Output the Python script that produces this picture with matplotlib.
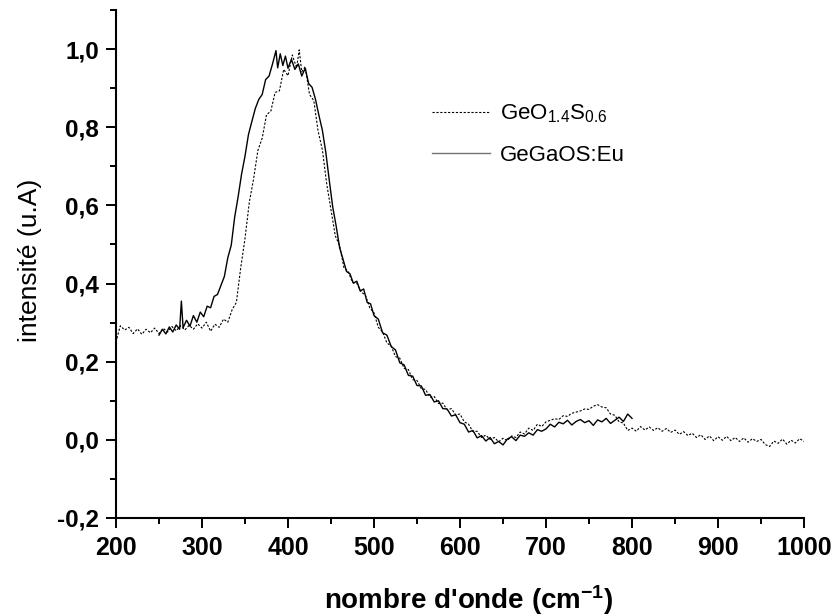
import numpy as np
import matplotlib
matplotlib.use("Agg")
import matplotlib.pyplot as plt
from matplotlib.ticker import MultipleLocator, FuncFormatter

plt.rcParams["font.family"] = ["Liberation Sans", "DejaVu Sans"]
plt.rcParams["mathtext.fontset"] = "custom"
plt.rcParams["mathtext.rm"] = "Liberation Sans"
plt.rcParams["mathtext.bf"] = "Liberation Sans:bold"
plt.rcParams["mathtext.it"] = "Liberation Sans:italic"
plt.rcParams["mathtext.default"] = "rm"

# GeO1.4S0.6 (dashed)
geos_x = [200, 205, 210, 215, 220, 225, 230, 235, 240, 245, 250, 255, 260, 265, 270, 275,
          280, 285, 290, 295, 300, 305, 310, 315, 320, 325, 330, 335, 340, 345, 350, 355,
          360, 365, 370, 375, 380, 385, 390, 395, 400, 405, 410, 413, 416, 420, 425, 430,
          435, 440, 445, 450, 455, 460, 465, 470, 475, 480, 485, 490, 495, 500, 505, 510,
          515, 520, 525, 530, 535, 540, 545, 550, 555, 560, 565, 570, 575, 580, 585, 590,
          595, 600, 605, 610, 615, 620, 625, 630, 635, 640, 645, 650, 655, 660, 665, 670,
          675, 680, 685, 690, 695, 700, 705, 710, 715, 720, 725, 730, 735, 740, 745, 750,
          755, 760, 765, 770, 775, 780, 785, 790, 795, 800, 805, 810, 815, 820, 825, 830,
          835, 840, 845, 850, 855, 860, 865, 870, 875, 880, 885, 890, 895, 900, 905, 910,
          915, 920, 925, 930, 935, 940, 945, 950, 955, 960, 965, 970, 975, 980, 985, 990,
          995, 1000]
geos_y = [0.250, 0.292, 0.281, 0.288, 0.272, 0.284, 0.270, 0.283, 0.274, 0.286, 0.272, 0.285,
          0.276, 0.290, 0.279, 0.292, 0.281, 0.293, 0.283, 0.297, 0.286, 0.301, 0.278, 0.296,
          0.288, 0.309, 0.301, 0.333, 0.352, 0.440, 0.515, 0.608, 0.668, 0.741, 0.772, 0.832,
          0.841, 0.889, 0.893, 0.948, 0.932, 0.985, 0.952, 0.998, 0.942, 0.955, 0.884, 0.868,
          0.790, 0.742, 0.655, 0.589, 0.522, 0.497, 0.441, 0.431, 0.403, 0.401, 0.378, 0.371,
          0.338, 0.325, 0.288, 0.276, 0.248, 0.240, 0.213, 0.209, 0.183, 0.180, 0.154, 0.152,
          0.131, 0.129, 0.109, 0.111, 0.093, 0.094, 0.077, 0.080, 0.064, 0.066, 0.046, 0.040,
          0.021, 0.022, 0.006, 0.012, 0.001, 0.006, -0.005, 0.004, -0.002, 0.010, 0.006, 0.020,
          0.015, 0.030, 0.024, 0.040, 0.034, 0.046, 0.050, 0.054, 0.052, 0.062, 0.060, 0.068,
          0.071, 0.074, 0.079, 0.078, 0.086, 0.090, 0.084, 0.082, 0.066, 0.063, 0.046, 0.043,
          0.024, 0.030, 0.022, 0.034, 0.025, 0.033, 0.024, 0.031, 0.022, 0.029, 0.019, 0.025,
          0.014, 0.021, 0.011, 0.017, 0.006, 0.013, 0.001, 0.010, -0.002, 0.008, -0.001, 0.009,
          -0.002, 0.006, -0.004, 0.005, -0.006, 0.003, -0.004, 0.001, -0.012, -0.017, -0.003,
          -0.009, 0.002, -0.011, -0.001, -0.008, 0.003, -0.004]

# GeGaOS:Eu (solid)
eu_x = [250, 254, 258, 262, 266, 270, 274, 276, 278, 282, 286, 290, 294, 298, 302, 306,
        310, 314, 318, 322, 326, 330, 334, 338, 342, 346, 350, 354, 358, 362, 366, 370,
        374, 378, 382, 386, 388, 391, 394, 397, 400, 404, 408, 412, 416, 420, 424, 428,
        432, 436, 440, 444, 448, 452, 456, 460, 464, 468, 472, 476, 480, 484, 488, 492,
        496, 500, 505, 510, 515, 520, 525, 530, 535, 540, 545, 550, 555, 560, 565, 570,
        575, 580, 585, 590, 595, 600, 605, 610, 615, 620, 625, 630, 635, 640, 645, 650,
        655, 660, 665, 670, 675, 680, 685, 690, 695, 700, 705, 710, 715, 720, 725, 730,
        735, 740, 745, 750, 755, 760, 765, 770, 775, 780, 785, 790, 795, 800]
eu_y = [0.268, 0.283, 0.271, 0.289, 0.276, 0.294, 0.283, 0.355, 0.287, 0.306, 0.291, 0.318,
        0.301, 0.327, 0.315, 0.342, 0.338, 0.367, 0.372, 0.395, 0.418, 0.466, 0.498, 0.570,
        0.622, 0.680, 0.726, 0.781, 0.815, 0.848, 0.871, 0.884, 0.922, 0.931, 0.962, 0.996,
        0.952, 0.988, 0.958, 0.982, 0.951, 0.974, 0.948, 0.962, 0.931, 0.951, 0.912, 0.902,
        0.871, 0.830, 0.792, 0.735, 0.664, 0.596, 0.547, 0.492, 0.462, 0.431, 0.425, 0.401,
        0.406, 0.381, 0.386, 0.352, 0.348, 0.318, 0.309, 0.274, 0.268, 0.239, 0.230, 0.197,
        0.192, 0.165, 0.163, 0.139, 0.138, 0.114, 0.116, 0.097, 0.100, 0.080, 0.079, 0.061,
        0.064, 0.044, 0.040, 0.020, 0.024, 0.005, 0.011, -0.003, 0.006, -0.010, -0.004, -0.013,
        0.002, 0.008, -0.002, 0.012, 0.009, 0.018, 0.012, 0.026, 0.022, 0.028, 0.040, 0.033,
        0.045, 0.041, 0.050, 0.038, 0.047, 0.052, 0.044, 0.049, 0.037, 0.051, 0.046, 0.055,
        0.042, 0.050, 0.058, 0.047, 0.066, 0.055]

fig = plt.figure(figsize=(8.38, 6.16), dpi=100)
ax = fig.add_axes([116 / 838, 1 - 518 / 616, 688 / 838, 508 / 616])

ax.plot(geos_x, geos_y, color="black", lw=0.8, linestyle=(0, (2.0, 1.5)),
        label=r"GeO$_{1.4}$S$_{0.6}$")
ax.plot(eu_x, eu_y, color="black", lw=1.0, label="GeGaOS:Eu")

ax.set_xlim(200, 1000)
ax.set_ylim(-0.2, 1.1)
ax.xaxis.set_major_locator(MultipleLocator(100))
ax.xaxis.set_minor_locator(MultipleLocator(50))
ax.yaxis.set_major_locator(MultipleLocator(0.2))
ax.yaxis.set_minor_locator(MultipleLocator(0.1))
ax.yaxis.set_major_formatter(FuncFormatter(lambda v, p: f"{v:.1f}".replace(".", ",").replace("-0,0", "0,0")))

for side in ["top", "right"]:
    ax.spines[side].set_visible(False)
for side in ["left", "bottom"]:
    ax.spines[side].set_linewidth(1.5)

ax.tick_params(which="major", direction="out", length=7, width=1.4, pad=5)
ax.tick_params(which="minor", direction="out", length=4, width=1.4)
ax.tick_params(axis="y", labelsize=17.5)
ax.tick_params(axis="x", labelsize=18, pad=6)
for lbl in ax.get_xticklabels() + ax.get_yticklabels():
    lbl.set_fontweight("bold")

ax.set_ylabel("intensité (u.A)", fontsize=19)
ax.yaxis.set_label_coords(-0.108, 0.508)
ax.set_xlabel(r"nombre d'onde (cm$^{\mathbf{-1}}$)", fontsize=20, fontweight="bold")
ax.xaxis.set_label_coords(0.513, -0.128)

leg = ax.legend(loc="upper left", bbox_to_anchor=(0.430, 0.857), frameon=False,
                fontsize=16, handlelength=2.6, handletextpad=0.45, labelspacing=0.9)
leg.get_lines()[1].set_color("0.45")

fig.savefig("out.png", dpi=100)
